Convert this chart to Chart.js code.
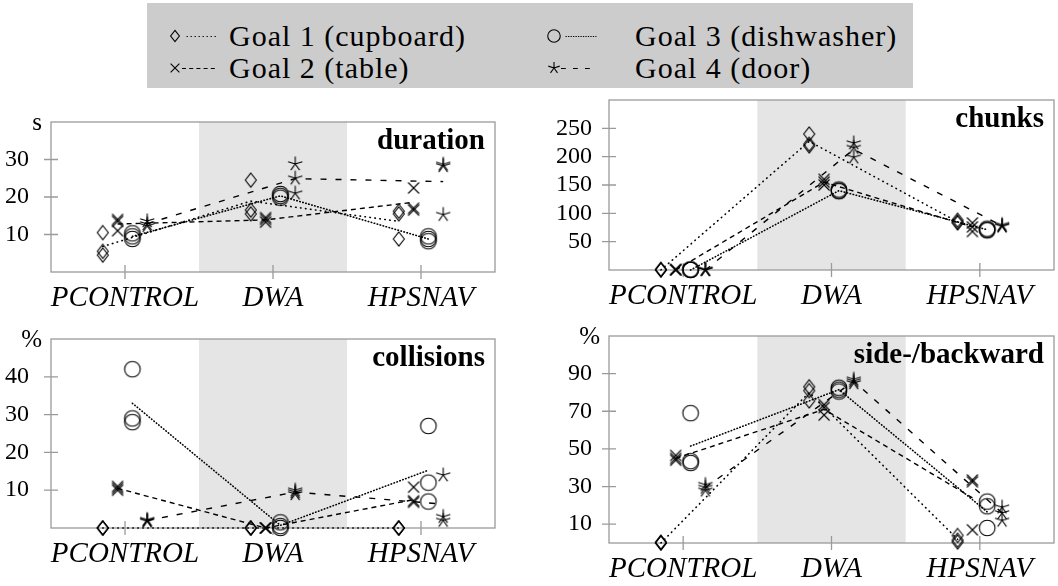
<!DOCTYPE html>
<html>
<head>
<meta charset="utf-8">
<script src="https://cdn.jsdelivr.net/npm/chart.js@4.4.1/dist/chart.umd.min.js"></script>
<style>
  html, body { margin: 0; padding: 0; background: #fff; overflow: hidden; width: 1058px; height: 586px; }
  canvas.panel { position: absolute; }
  #legend { position: absolute; left: 147px; top: 3px; width: 766px; height: 85px; background: #cccccc;
            font-family: 'Liberation Serif'; font-size: 30px; letter-spacing: 1px; color: #000; }
  #legend .sym { position: absolute; }
  #legend .txt { position: absolute; white-space: nowrap; line-height: 30px; }
</style>
</head>
<body>
<div id="legend"></div>
<canvas class="panel" id="duration"></canvas>
<canvas class="panel" id="chunks"></canvas>
<canvas class="panel" id="collisions"></canvas>
<canvas class="panel" id="side"></canvas>
<script>
// ---- data ----
const methods = ['PCONTROL', 'DWA', 'HPSNAV'];
const goalNames = ['Goal 1 (cupboard)', 'Goal 2 (table)', 'Goal 3 (dishwasher)', 'Goal 4 (door)'];

// trials per goal, each goal = [PCONTROL, DWA, HPSNAV]
const durationTrials = [
    [[10.5, 5.5, 4.5], [24.5, 16.5, 15.5], [16.2, 15.5, 8.8]],
    [[14, 13.5, 11], [14.5, 14, 13.3], [22.4, 17, 16.5]],
    [[10.3, 9.5, 8.8], [20.8, 20.3, 19.8], [9.5, 8.8, 8.2]],
    [[13.6, 12.8, 12.3], [28.8, 25, 21], [28.7, 28.3, 15.3]]
];
const durationMeans = [[6.8, 18.9, 13.5], [12.8, 13.9, 18.6], [9.5, 20.3, 8.8], [12.9, 24.9, 24.1]];
const durationTicks = [10, 20, 30];

const chunksTrials = [
    [[1, 0.5, 0], [240, 222, 219], [88, 85, 83]],
    [[1, 0.5, 0], [160, 155, 150], [83, 76, 68]],
    [[1, 0.5, 0], [142, 140, 139], [73, 71, 70]],
    [[1, 0.5, 0], [224, 216, 199], [80, 78, 77]]
];
const chunksMeans = [[0, 227, 85], [0, 155, 76], [0, 140, 71], [0, 213, 78]];
const chunksTicks = [50, 100, 150, 200, 250];

const collisionsTrials = [
    [[0, 0, 0], [0, 0, 0], [0, 0, 0]],
    [[11, 10.5, 10], [0, 0, 0], [10.8, 7.2, 6.8]],
    [[42, 29, 28], [1.5, 0.5, 0], [27, 12, 7]],
    [[2.2, 2, 1.8], [10, 9.5, 9], [14, 3, 2]]
];
const collisionsMeans = [[0, 0, 0], [10.5, 0, 7.5], [33, 0.7, 15.3], [2, 9.5, 6.3]];
const collisionsTicks = [10, 20, 30, 40];

const sideTrials = [
    [[0.5, 0, 0], [83, 81, 75.5], [4, 1.5, 0.5]],
    [[46.5, 45, 44], [73.5, 72, 68], [33.5, 32.5, 7]],
    [[69, 43.5, 42.5], [82.5, 81.5, 80.5], [22, 19.5, 8]],
    [[31, 29.5, 28], [87, 86, 85], [19, 16, 12]]
];
const sideMeans = [[0, 80, 2], [45, 71, 24], [51.5, 81.5, 16.5], [29.5, 86, 16]];
const sideTicks = [10, 30, 50, 70, 90];

// ---- styling ----
const goalOffsets = [-0.15, -0.05, 0.05, 0.15];
const markerKinds = ['diamond', 'cross', 'circle', 'star'];
const lineDashes = [[0.5, 4.5], [5, 4], [0.5, 2.6], [6, 9]];
const lineCaps = ['round', 'butt', 'round', 'butt'];
const lineWidths = [1.6, 1.4, 1.6, 1.4];
const serif = "'Liberation Serif'";

function drawMarker(ctx, kind, x, y, k) {
    ctx.save();
    ctx.strokeStyle = '#000';
    ctx.lineWidth = 1.1;
    ctx.beginPath();
    if (kind === 'diamond') {
        ctx.moveTo(x, y - 7 * k); ctx.lineTo(x + 5.5 * k, y);
        ctx.lineTo(x, y + 7 * k); ctx.lineTo(x - 5.5 * k, y); ctx.closePath();
    } else if (kind === 'cross') {
        const d = 5.5 * k;
        ctx.moveTo(x - d, y - d); ctx.lineTo(x + d, y + d);
        ctx.moveTo(x + d, y - d); ctx.lineTo(x - d, y + d);
    } else if (kind === 'circle') {
        ctx.arc(x, y, 7.8 * k, 0, Math.PI * 2);
    } else {
        for (let i = 0; i < 5; i++) {
            const a = -Math.PI / 2 + i * 2 * Math.PI / 5;
            ctx.moveTo(x, y);
            ctx.lineTo(x + 7.5 * k * Math.cos(a), y + 7.5 * k * Math.sin(a));
        }
    }
    ctx.stroke();
    ctx.restore();
}

const markerImages = markerKinds.map(kind => {
    const c = document.createElement('canvas');
    c.width = 20; c.height = 20;
    drawMarker(c.getContext('2d'), kind, 10, 10, 1);
    return c;
});

function buildDatasets(trials, means) {
    const sets = [];
    trials.forEach((goal, g) => {
        const pts = [];
        goal.forEach((vals, m) => vals.forEach(v => pts.push({ x: m + goalOffsets[g], y: v })));
        sets.push({ data: pts, pointStyle: markerImages[g], pointRadius: 8, showLine: false, clip: false });
    });
    means.forEach((vals, g) => {
        sets.push({
            data: vals.map((v, m) => ({ x: m + goalOffsets[g], y: v })),
            showLine: true, pointRadius: 0, borderColor: '#000', borderWidth: lineWidths[g],
            borderDash: lineDashes[g], borderCapStyle: lineCaps[g], tension: 0, clip: false
        });
    });
    return sets;
}

// shading, frame, tick marks and the texts around each panel
const framePlugin = {
    id: 'frame',
    beforeDatasetsDraw(chart, args, opts) {
        const { ctx, chartArea: a, scales: { x, y } } = chart;
        ctx.save();
        const x0 = x.getPixelForValue(0.5), x1 = x.getPixelForValue(1.5);
        ctx.fillStyle = '#e5e5e5';
        ctx.fillRect(x0, a.top, x1 - x0, a.bottom - a.top);
        ctx.strokeStyle = '#9a9a9a';
        ctx.lineWidth = 1.3;
        ctx.strokeRect(a.left, a.top, a.right - a.left, a.bottom - a.top);
        ctx.beginPath();
        x.ticks.forEach(t => {
            const px = x.getPixelForValue(t.value);
            ctx.moveTo(px, a.bottom - 7); ctx.lineTo(px, a.bottom + 7);
        });
        y.ticks.forEach(t => {
            const py = y.getPixelForValue(t.value);
            ctx.moveTo(a.left - 7, py); ctx.lineTo(a.left + 7, py);
        });
        ctx.stroke();
        ctx.restore();
    },
    afterDraw(chart, args, opts) {
        const { ctx, chartArea: a, scales: { x } } = chart;
        ctx.save();
        ctx.fillStyle = '#000';
        ctx.textBaseline = 'middle';
        ctx.font = `italic 29px ${serif}`;
        ctx.textAlign = 'center';
        methods.forEach((name, i) => ctx.fillText(name, x.getPixelForValue(i), a.bottom + 26));
        ctx.font = `bold 29px ${serif}`;
        ctx.textAlign = 'right';
        ctx.fillText(opts.title, a.right - 10, a.top + 20);
        ctx.font = `25px ${serif}`;
        ctx.fillText(opts.unit, a.left - 9, a.top + 1);
        ctx.restore();
    }
};

function makePanel(id, area, trials, means, yMax, yTicks, title, unit, tickGap) {
    const yW = 60, padTop = 30, xH = 45;
    const canvas = document.getElementById(id);
    const left = area.left - yW, top = area.top - padTop;
    canvas.width = area.right - left;
    canvas.height = area.bottom + xH - top;
    canvas.style.left = `${left}px`;
    canvas.style.top = `${top}px`;

    return new Chart(canvas.getContext('2d'), {
        type: 'scatter',
        data: { datasets: buildDatasets(trials, means) },
        plugins: [framePlugin],
        options: {
            responsive: false,
            animation: false,
            events: [],
            layout: { padding: { top: padTop, right: 0, left: 0, bottom: 0 } },
            plugins: {
                legend: { display: false },
                tooltip: { enabled: false },
                frame: { title: title, unit: unit }
            },
            scales: {
                x: {
                    type: 'linear', min: -0.5, max: 2.5,
                    afterBuildTicks: s => { s.ticks = methods.map((m, i) => ({ value: i })); },
                    afterFit: s => { s.height = xH; },
                    ticks: { display: false },
                    grid: { display: false },
                    border: { display: false }
                },
                y: {
                    min: 0, max: yMax,
                    afterBuildTicks: s => { s.ticks = yTicks.map(v => ({ value: v })); },
                    afterFit: s => { s.width = yW; },
                    ticks: { color: '#000', padding: tickGap, font: { family: serif, size: 24 } },
                    grid: { display: false },
                    border: { display: false }
                }
            }
        }
    });
}

function buildLegend() {
    const box = document.getElementById('legend');
    // marker centre x, text x, row centre y (relative to the legend box)
    const spots = [
        { mx: 28, tx: 82, y: 33 }, { mx: 28, tx: 82, y: 65 },
        { mx: 407, tx: 488, y: 33 }, { mx: 407, tx: 488, y: 65 }
    ];
    goalNames.forEach((name, g) => {
        const s = spots[g];
        const c = document.createElement('canvas');
        c.className = 'sym';
        c.width = 60; c.height = 24;
        c.style.left = `${s.mx - 10}px`;
        c.style.top = `${s.y - 12}px`;
        const ctx = c.getContext('2d');
        drawMarker(ctx, markerKinds[g], 10, 12, 0.8);
        ctx.strokeStyle = '#000';
        ctx.lineWidth = 1.2;
        ctx.lineCap = lineCaps[g];
        ctx.setLineDash(lineDashes[g].map(d => d * 0.8));
        ctx.beginPath();
        ctx.moveTo(g === 1 || g === 3 ? 17 : 22, 12.5);
        ctx.lineTo(52, 12.5);
        ctx.stroke();
        box.appendChild(c);

        const t = document.createElement('div');
        t.className = 'txt';
        t.textContent = name;
        t.style.left = `${s.tx}px`;
        t.style.top = `${s.y - 15}px`;
        box.appendChild(t);
    });
}

document.addEventListener('DOMContentLoaded', () => {
    buildLegend();
    makePanel('duration', { left: 51, top: 122, right: 504, bottom: 272 },
        durationTrials, durationMeans, 40, durationTicks, 'duration', 's', 14);
    makePanel('chunks', { left: 609, top: 100, right: 1063, bottom: 270 },
        chunksTrials, chunksMeans, 300, chunksTicks, 'chunks', '', 9);
    makePanel('collisions', { left: 51, top: 339, right: 504, bottom: 528 },
        collisionsTrials, collisionsMeans, 50, collisionsTicks, 'collisions', '%', 14);
    makePanel('side', { left: 609, top: 336, right: 1063, bottom: 543 },
        sideTrials, sideMeans, 110, sideTicks, 'side-/backward', '%', 9);
});
</script>
</body>
</html>
